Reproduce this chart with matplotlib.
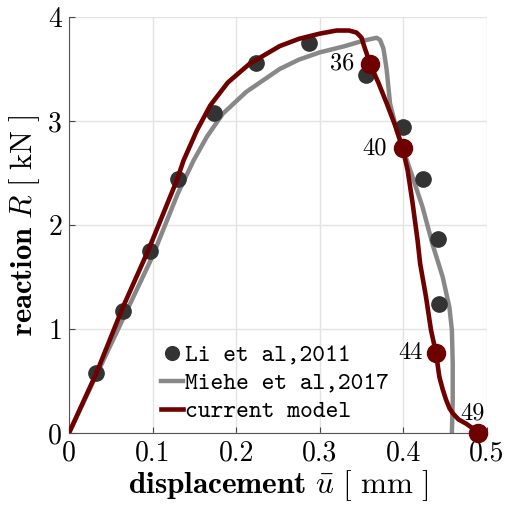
import matplotlib
matplotlib.use("Agg")
import matplotlib.pyplot as plt

plt.rcParams['font.family'] = 'serif'
plt.rcParams['font.serif'] = ['cmr10']
plt.rcParams['mathtext.fontset'] = 'cm'
plt.rcParams['axes.formatter.use_mathtext'] = True

# experimental data (Li et al 2011)
li_u = [0.032, 0.065, 0.097, 0.130, 0.173, 0.224, 0.287, 0.355, 0.400, 0.423, 0.441, 0.442]
li_R = [0.58, 1.17, 1.75, 2.44, 3.08, 3.56, 3.75, 3.44, 2.94, 2.44, 1.87, 1.24]

# Miehe et al 2017
miehe_u = [0.0, 0.05, 0.10, 0.13, 0.149, 0.165, 0.184, 0.212, 0.252, 0.275, 0.300,
           0.330, 0.351, 0.362, 0.368, 0.372, 0.376, 0.378, 0.380, 0.384, 0.392,
           0.411, 0.423, 0.435, 0.447, 0.455, 0.458, 0.459, 0.459, 0.458]
miehe_R = [0.0, 0.85, 1.70, 2.30, 2.62, 2.85, 3.07, 3.28, 3.50, 3.59, 3.66,
           3.72, 3.77, 3.79, 3.80, 3.78, 3.70, 3.60, 3.49, 3.17, 2.91,
           2.46, 2.17, 1.81, 1.50, 1.21, 0.99, 0.67, 0.30, 0.0]

# current model
model_u = [0.0, 0.033, 0.0645, 0.095, 0.129, 0.137, 0.153, 0.169, 0.190, 0.216,
           0.252, 0.275, 0.300, 0.320, 0.335, 0.344, 0.350, 0.353, 0.356, 0.360,
           0.370, 0.380, 0.390, 0.399, 0.405, 0.411, 0.417, 0.420, 0.427, 0.433,
           0.439, 0.443, 0.447, 0.451, 0.455, 0.459, 0.466, 0.475, 0.482, 0.489]
model_R = [0.0, 0.58, 1.21, 1.76, 2.43, 2.62, 2.91, 3.15, 3.37, 3.55,
           3.72, 3.79, 3.84, 3.87, 3.87, 3.85, 3.80, 3.72, 3.65, 3.55,
           3.37, 3.17, 2.96, 2.74, 2.53, 2.21, 1.85, 1.63, 1.31, 0.99,
           0.77, 0.54, 0.42, 0.32, 0.24, 0.19, 0.13, 0.09, 0.05, 0.0]

# labelled load steps
step_ids = ['36', '40', '44', '49']
step_u = [0.360, 0.399, 0.439, 0.489]
step_R = [3.55, 2.74, 0.77, 0.0]
step_offsets = [(-28, 0), (-28, 0), (-25, 0), (-5, 20)]

xticks = [0, 0.1, 0.2, 0.3, 0.4, 0.5]
xtick_labels = ['0', '0.1', '0.2', '0.3', '0.4', '0.5']
yticks = [0, 1, 2, 3, 4]
ytick_labels = ['0', '1', '2', '3', '4']

red = '#6e0000'
fig = plt.figure(figsize=(5.05, 5.11), dpi=100)
ax = fig.add_axes([69/505, 78/511, 418/505, 416/511])

ax.plot(li_u, li_R, 'o', color='#333333', markersize=11, label='Li et al,2011', zorder=3)
ax.plot(miehe_u, miehe_R, color='#888888', linewidth=3.2, label='Miehe et al,2017',
        zorder=2, solid_joinstyle='round')
ax.plot(model_u, model_R, color=red, linewidth=3.3, label='current model', zorder=4,
        solid_joinstyle='round')
ax.plot(step_u, step_R, 'o', color=red, markersize=13, zorder=5, clip_on=False)

for s, u, r, off in zip(step_ids, step_u, step_R, step_offsets):
    ax.annotate(s, (u, r), xytext=off, textcoords='offset pixels', fontsize=17.5,
                ha='center', va='center')

ax.set_xlim(0, 0.5)
ax.set_ylim(0, 4)
ax.set_xticks(xticks)
ax.set_xticklabels(xtick_labels)
ax.set_yticks(yticks)
ax.set_yticklabels(ytick_labels)
ax.tick_params(direction='in', labelsize=20, length=4, color='#444444', pad=5)
ax.grid(True, color='#e3e3e3', linewidth=1)
ax.set_axisbelow(True)
for side in ['top', 'right']:
    ax.spines[side].set_visible(False)
for side in ['left', 'bottom']:
    ax.spines[side].set_color('#555555')

ax.set_xlabel(r'$\mathbf{displacement}\ \bar{u}\ [\ \mathrm{mm}\ ]$', fontsize=22.5, labelpad=1)
ax.set_ylabel(r'$\mathbf{reaction}\ R\ [\ \mathrm{kN}\ ]$', fontsize=22, labelpad=4)

ax.legend(loc='lower left', bbox_to_anchor=(0.197, 0.0), frameon=False,
          prop={'family': 'cmtt10', 'size': 17.5}, handlelength=0.9,
          handletextpad=0.1, labelspacing=0.2, borderaxespad=0, markerscale=0.9)

fig.savefig('out.png', dpi=100)
